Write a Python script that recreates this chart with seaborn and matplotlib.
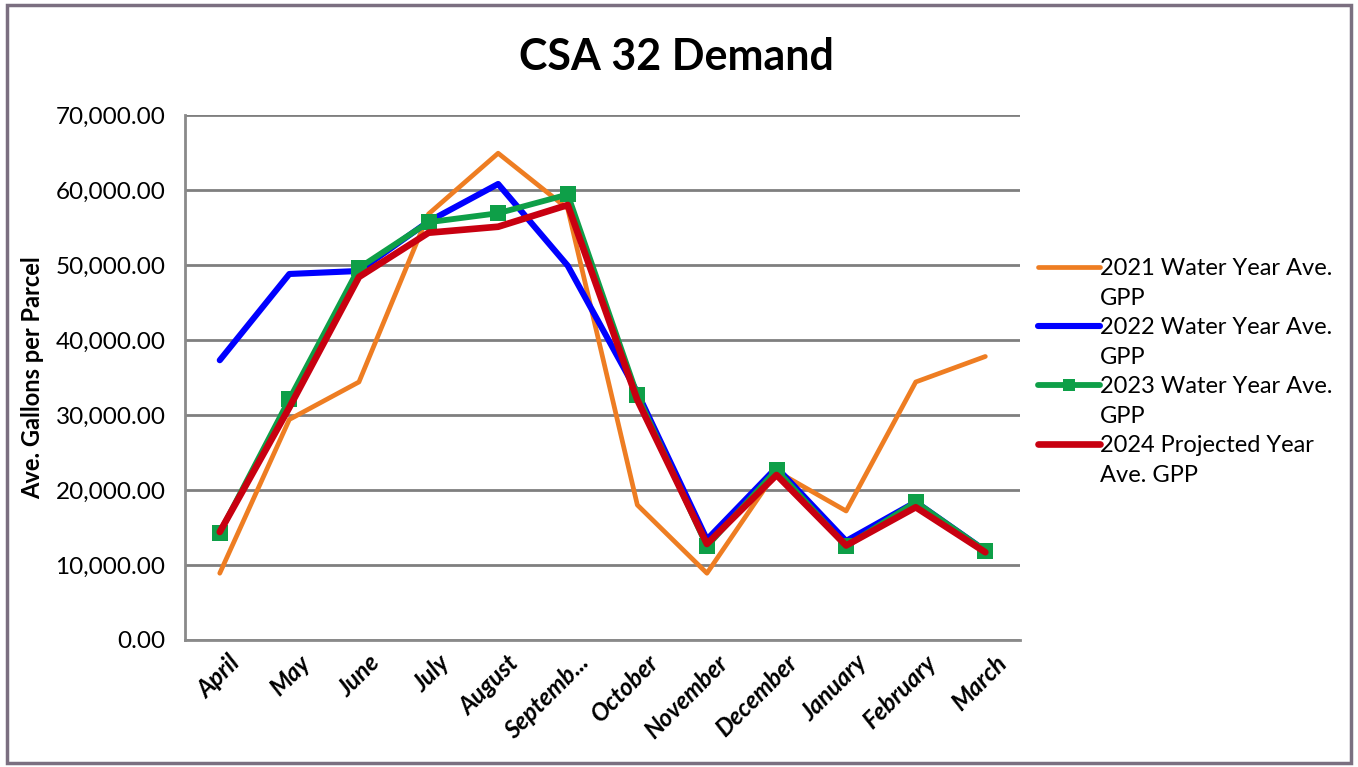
import numpy as np
import pandas as pd
import matplotlib
matplotlib.use("Agg")
import matplotlib.pyplot as plt
import seaborn as sns
from matplotlib.lines import Line2D
from matplotlib.patches import Rectangle

# chart data
months = ["April", "May", "June", "July", "August", "Septemb...", "October",
          "November", "December", "January", "February", "March"]
gpp_2021 = [8900, 29400, 34400, 56800, 64900, 57500, 18000, 8900, 22500, 17200, 34400, 37800]
gpp_2022 = [37300, 48800, 49200, 55800, 60800, 49900, 33000, 13400, 23000, 13200, 18400, 11900]
gpp_2023 = [14300, 32100, 49600, 55700, 56900, 59400, 32600, 12500, 22700, 12500, 18400, 11900]
gpp_2024 = [14400, 31000, 48400, 54300, 55100, 58000, 32000, 12800, 22000, 12600, 17700, 11700]

series_names = ["2021 Water Year Ave. GPP", "2022 Water Year Ave. GPP",
                "2023 Water Year Ave. GPP", "2024 Projected Year Ave. GPP"]
# how the legend wraps each name
legend_lines = [("2021 Water Year Ave.", "GPP"), ("2022 Water Year Ave.", "GPP"),
                ("2023 Water Year Ave.", "GPP"), ("2024 Projected Year", "Ave. GPP")]
y_ticks = [0, 10000, 20000, 30000, 40000, 50000, 60000, 70000]

df = pd.DataFrame({"month": months * 4,
                   "pos": list(range(len(months))) * 4,
                   "value": gpp_2021 + gpp_2022 + gpp_2023 + gpp_2024,
                   "series": sum([[n] * len(months) for n in series_names], [])})

sns.set_theme(style="white")
plt.rcParams["font.family"] = ["Lato", "DejaVu Sans"]
plt.rcParams["text.color"] = "black"
plt.rcParams["xtick.color"] = "black"
plt.rcParams["ytick.color"] = "black"
plt.rcParams["axes.labelcolor"] = "black"

fig = plt.figure(figsize=(13.58, 7.67), dpi=100)
ax = fig.add_axes([0.1362, 0.1656, 0.615, 0.6845])

palette = {series_names[0]: "#EE7D22", series_names[1]: "#0000FF",
           series_names[2]: "#0E9F48", series_names[3]: "#C80010"}
widths = {series_names[0]: 3.4, series_names[1]: 4.4,
          series_names[2]: 4.2, series_names[3]: 4.8}

for name in series_names:
    sub = df[df["series"] == name]
    sns.lineplot(data=sub, x="pos", y="value", ax=ax, color=palette[name],
                 linewidth=widths[name], legend=False,
                 marker="s" if name == series_names[2] else None,
                 markersize=11, markeredgewidth=0, sort=False)

ax.set_xlim(-0.5, len(months) - 0.5)
ax.set_ylim(0, 70000)
ax.set_yticks(y_ticks)
ax.set_yticklabels([f"{v:,.2f}" for v in y_ticks], fontsize=17.5)
# labels sit a little right of the category centre, as in Excel
ax.set_xticks(np.arange(len(months)) + 0.13)
ax.set_xticklabels(months, rotation=45, ha="right", rotation_mode="anchor",
                   fontsize=17.5, fontweight="bold", fontstyle="italic")
ax.tick_params(axis="x", length=0, pad=8)
ax.tick_params(axis="y", length=6, width=1.5, color="#8a8a8a", direction="out", pad=8)
# category boundary ticks
ax.set_xticks(np.arange(-0.5, len(months)), minor=True)
ax.tick_params(axis="x", which="minor", length=7, width=1.5, color="#8a8a8a", direction="out")

ax.grid(axis="y", color="#7f7f7f", linewidth=2)
ax.grid(axis="x", visible=False)
for side in ["top", "right"]:
    ax.spines[side].set_visible(False)
for side in ["left", "bottom"]:
    ax.spines[side].set_color("#8a8a8a")
    ax.spines[side].set_linewidth(2)
ax.set_axisbelow(True)

ax.set_xlabel("")
ax.set_ylabel("Ave. Gallons per Parcel", fontsize=17, fontweight="bold", labelpad=8)

fig.text(0.498, 0.926, "CSA 32 Demand", ha="center", va="center",
         fontsize=31, fontweight="bold")

# legend: handle sits beside the first line of each wrapped name
handles, labels = [], []
for name, (first, second) in zip(series_names, legend_lines):
    is_green = name == series_names[2]
    handles.append(Line2D([], [], color=palette[name], linewidth=widths[name],
                          marker="s" if is_green else None, markersize=9,
                          markeredgewidth=0))
    labels.append(first)
    handles.append(Line2D([], [], linestyle="none"))
    labels.append(second)
leg = ax.legend(handles, labels, loc="center left", bbox_to_anchor=(1.005, 0.51),
                frameon=False, fontsize=17, handlelength=2.6, handletextpad=0.0,
                labelspacing=0.36, borderaxespad=0.2)

fig.patches.append(Rectangle((0.005, 0.005), 0.99, 0.988, transform=fig.transFigure,
                             fill=False, edgecolor="#7b6f80", linewidth=2.5))

fig.savefig("out.png", dpi=100)
